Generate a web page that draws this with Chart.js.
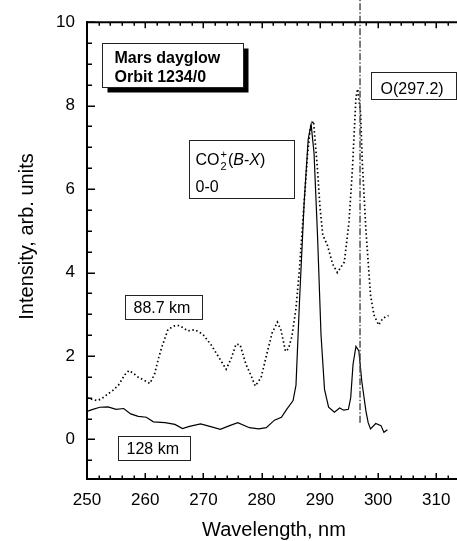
<!DOCTYPE html>
<html><head><meta charset="utf-8">
<script src="https://cdn.jsdelivr.net/npm/chart.js@4/dist/chart.umd.min.js"></script>
<style>html,body{margin:0;padding:0;background:#fff;overflow:hidden;width:457px;height:541px}canvas{display:block}</style>
</head><body><canvas id="c" width="470" height="541"></canvas>
<script>
// ---- data ----
const wl128  = [250, 251, 252.2, 253.6, 255.0, 256.3, 257.5, 258.8, 260.2, 261.4, 263.4, 265.1, 266.4, 267.6, 269.5, 271.1, 272.9, 274.5, 275.9, 277.9, 279.5, 280.8, 282.2, 283.4, 284.3, 285.4, 285.9, 286.5, 287.3, 288.0, 288.5, 289.0, 289.6, 290.2, 290.8, 291.5, 292.5, 293.4, 294.1, 294.9, 295.3, 295.7, 296.2, 296.7, 297.2, 297.9, 298.3, 298.7, 299.6, 300.5, 301.0, 301.6];
const int128 = [0.67, 0.72, 0.77, 0.78, 0.72, 0.74, 0.61, 0.55, 0.53, 0.42, 0.40, 0.36, 0.26, 0.31, 0.37, 0.31, 0.24, 0.33, 0.40, 0.28, 0.25, 0.28, 0.46, 0.53, 0.72, 0.93, 1.30, 3.30, 5.67, 7.20, 7.55, 6.86, 4.88, 2.50, 1.20, 0.77, 0.65, 0.75, 0.70, 0.72, 1.00, 1.80, 2.23, 2.12, 1.40, 0.69, 0.40, 0.25, 0.38, 0.33, 0.17, 0.23];
const wl887  = [250, 250.6, 251.7, 252.5, 253.5, 254.5, 255.4, 256.5, 257.2, 258.0, 258.8, 259.8, 260.8, 261.6, 262.2, 262.8, 263.9, 265.0, 265.9, 266.7, 267.3, 268.5, 269.9, 271.3, 272.5, 273.9, 274.8, 275.6, 276.3, 277.3, 278.2, 278.9, 279.9, 281.0, 281.8, 282.7, 283.3, 284.1, 284.6, 285.2, 285.9, 286.5, 287.3, 287.9, 288.4, 288.9, 289.6, 290.0, 290.5, 291.3, 292.2, 293.0, 294.2, 295.0, 295.6, 296.2, 296.5, 297.0, 297.3, 297.9, 298.7, 299.3, 300.1, 300.8, 301.8];
const int887 = [1.00, 0.97, 0.93, 0.97, 1.08, 1.18, 1.30, 1.55, 1.65, 1.58, 1.49, 1.42, 1.34, 1.56, 1.90, 2.19, 2.63, 2.72, 2.73, 2.66, 2.60, 2.63, 2.52, 2.27, 2.00, 1.68, 1.95, 2.28, 2.27, 1.80, 1.52, 1.28, 1.48, 2.11, 2.55, 2.81, 2.63, 2.11, 2.17, 2.47, 3.14, 4.09, 5.67, 6.86, 7.50, 7.63, 6.46, 5.60, 4.90, 4.65, 4.20, 4.00, 4.25, 5.20, 6.50, 8.20, 8.40, 7.81, 6.62, 5.04, 3.46, 2.98, 2.74, 2.90, 2.97];
const xTickLabels = [250, 260, 270, 280, 290, 300, 310];
const yTickLabels = [0, 2, 4, 6, 8, 10];
const oLineWl = 296.9;      // O(297.2) marker position
const oLineFrom = 0.4;      // bottom end of marker line

const FONT = '"Liberation Sans", Arial, sans-serif';

// ---- annotation boxes (data coords) ----
const notes = [
  {x0:252.58, x1:276.80, y0:9.50, y1:8.44, shadow:5, lines:[{dy:19, parts:[{t:'Mars dayglow', b:true}]}, {dy:38, parts:[{t:'Orbit 1234/0', b:true}]}], dx:12},
  {x0:298.78, x1:313.38, y0:8.81, y1:8.17, lines:[{dy:21, parts:[{t:'O(297.2)'}]}], dx:9},
  {x0:267.52, x1:285.55, y0:7.18, y1:5.78, lines:[{dy:24, parts:[{t:'CO'},{t:'2',sub:true,sup:'+'},{t:'('},{t:'B',i:true},{t:'-'},{t:'X',i:true},{t:')'}]}, {dy:51, parts:[{t:'0-0'}]}], dx:6},
  {x0:256.53, x1:269.75, y0:3.46, y1:2.89, lines:[{dy:17, parts:[{t:'88.7 km'}]}], dx:8},
  {x0:255.32, x1:267.69, y0:0.07, y1:-0.50, lines:[{dy:17, parts:[{t:'128 km'}]}], dx:8}
];

const decor = {
  id:'decor',
  afterDatasetsDraw(chart){
    const {ctx, chartArea:a, scales:{x,y}} = chart;
    ctx.save();
    // O line
    ctx.strokeStyle='#444'; ctx.lineWidth=1.4; ctx.setLineDash([7,2,1.5,2]);
    const ox = x.getPixelForValue(oLineWl);
    ctx.beginPath(); ctx.moveTo(ox, y.getPixelForValue(oLineFrom)); ctx.lineTo(ox, 0); ctx.stroke();
    ctx.setLineDash([]);
    // top border
    ctx.strokeStyle='#000'; ctx.lineWidth=2;
    ctx.beginPath(); ctx.moveTo(a.left-1, a.top); ctx.lineTo(a.right+2, a.top); ctx.stroke();
    // inward ticks
    ctx.lineWidth=1.5;
    ctx.beginPath();
    for(let v=250; v<=x.max; v+=2){
      const px = Math.round(x.getPixelForValue(v))+0.25;
      const L = (v%10===0)?6:3.5;
      ctx.moveTo(px, a.bottom); ctx.lineTo(px, a.bottom-L);
      ctx.moveTo(px, a.top); ctx.lineTo(px, a.top+L);
    }
    for(let k=Math.ceil(y.min*2); k<=Math.floor(y.max*2); k++){
      const v=k/2; const py=Math.round(y.getPixelForValue(v))+0.25;
      const L = (k%4===0)?8:5;
      ctx.moveTo(a.left, py); ctx.lineTo(a.left+L, py);
    }
    ctx.stroke();
    // annotation boxes
    ctx.textBaseline='alphabetic'; ctx.textAlign='left'; ctx.fillStyle='#000';
    for(const n of notes){
      const l=Math.round(x.getPixelForValue(n.x0))+0.5, r=Math.round(x.getPixelForValue(n.x1))+0.5;
      const t=Math.round(y.getPixelForValue(n.y0))+0.5, b=Math.round(y.getPixelForValue(n.y1))+0.5;
      if(n.shadow){ ctx.fillStyle='#000'; ctx.fillRect(l+n.shadow, t+n.shadow, r-l, b-t); }
      ctx.fillStyle='#fff'; ctx.fillRect(l,t,r-l,b-t);
      ctx.strokeStyle='#222'; ctx.lineWidth=1; ctx.strokeRect(l,t,r-l,b-t);
      ctx.fillStyle='#000';
      for(const line of n.lines){
        let cx=l+n.dx; const by=t+line.dy;
        for(const p of line.parts){
          if(p.sub){
            ctx.font='11px '+FONT;
            ctx.fillText(p.t, cx+1, by+5);
            const w1=ctx.measureText(p.t).width;
            ctx.fillText(p.sup, cx+1, by-7);
            const w2=ctx.measureText(p.sup).width;
            cx += Math.max(w1,w2)+2;
          } else {
            ctx.font=(p.b?'bold ':'')+(p.i?'italic ':'')+'16px '+FONT;
            ctx.fillText(p.t, cx, by);
            cx += ctx.measureText(p.t).width;
          }
        }
      }
    }
    // axis titles
    ctx.font='20px '+FONT; ctx.textAlign='center';
    ctx.fillText('Wavelength, nm', 274, 536);
    ctx.save(); ctx.translate(33, 236.5); ctx.rotate(-Math.PI/2);
    ctx.fillText('Intensity, arb. units', 0, 0); ctx.restore();
    ctx.restore();
  }
};

new Chart(document.getElementById('c'), {
  type:'line',
  data:{datasets:[
    {label:'128 km', data: wl128.map((w,i)=>({x:w, y:int128[i]})), borderColor:'#000', borderWidth:1.2, pointRadius:0, tension:0, fill:false},
    {label:'88.7 km', data: wl887.map((w,i)=>({x:w, y:int887[i]})), borderColor:'#000', borderWidth:1.7, borderDash:[1.5,2.6], pointRadius:0, tension:0, fill:false}
  ]},
  options:{
    responsive:false, animation:false, devicePixelRatio:1,
    layout:{padding:{top:17, right:4.6, left:0, bottom:0}},
    plugins:{legend:{display:false}, tooltip:{enabled:false}},
    scales:{
      x:{type:'linear', min:250, max:315,
        grid:{display:false, drawTicks:false},
        border:{display:true, color:'#000', width:2},
        ticks:{color:'#000', font:{family:FONT, size:17}, padding:11, maxRotation:0},
        afterBuildTicks:s=>{ s.ticks = xTickLabels.map(v=>({value:v})); },
        afterFit:s=>{ s.height = 62; }
      },
      y:{type:'linear', min:-0.95, max:10,
        grid:{display:false, drawTicks:false},
        border:{display:true, color:'#000', width:2},
        ticks:{color:'#000', font:{family:FONT, size:17}, padding:12},
        afterBuildTicks:s=>{ s.ticks = yTickLabels.map(v=>({value:v})); },
        afterFit:s=>{ s.width = 87; }
      }
    }
  },
  plugins:[decor]
});
</script>
</body></html>
